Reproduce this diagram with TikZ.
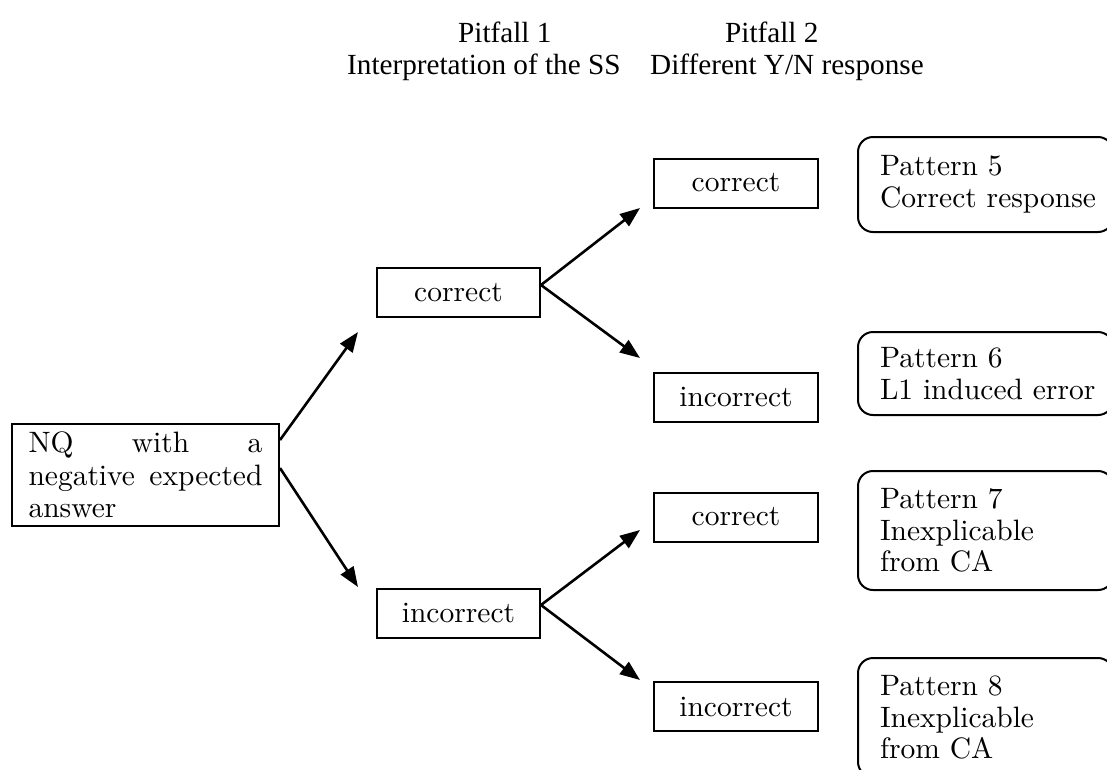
\documentclass[tikz,border=0pt]{standalone}
\usepackage{fontspec}
\setmainfont{lmroman10-regular.otf}
\newfontfamily\hdrfont{Liberation Serif}
\usetikzlibrary{arrows.meta}
\hyphenpenalty=10000
\exhyphenpenalty=10000
\tolerance=10000
\begin{document}
\begin{tikzpicture}[x=1pt,y=-1pt,
  sbox/.style={draw, line width=2pt, minimum width=163pt, minimum height=49pt, inner sep=0pt,
    font=\fontsize{29.5}{32}\selectfont},
  patbox/.style={draw, line width=2pt, rounded corners=15pt, anchor=north west, text width=211pt,
    inner xsep=22pt, inner ysep=0pt, align=left, font=\fontsize{29.5}{31.5}\selectfont},
  nqbox/.style={draw, line width=2pt, anchor=north west, text width=234pt, inner xsep=16.5pt,
    inner ysep=8pt, align=justify, font=\fontsize{29.5}{32.5}\selectfont},
  arr/.style={line width=2.6pt, -{Triangle[length=20pt,width=15pt]}},
  hdr/.style={anchor=base west, inner sep=0pt, font=\hdrfont\fontsize{29.2}{32}\selectfont}]
\useasboundingbox (0,0) rectangle (1107,769);

% headers
\node[hdr] (h1) at (458,42) {Pitfall 1};
\node[hdr] (h2) at (347,74) {Interpretation of the SS};
\node[hdr] (h3) at (725,42) {Pitfall 2};
\node[hdr] (h4) at (650,74) {Different Y/N response};

% start box
\node[nqbox] (nq) at (11,423) {NQ with a negative expected answer};

% pitfall 1 boxes
\node[sbox] (c1) at (458.5,292.5) {correct};
\node[sbox] (i1) at (458.5,613) {incorrect};

% pitfall 2 boxes
\node[sbox, minimum width=164pt] (c2) at (736,183) {correct};
\node[sbox, minimum width=164pt] (i2) at (736,397) {incorrect};
\node[sbox, minimum width=164pt] (c3) at (736,517) {correct};
\node[sbox, minimum width=164pt] (i3) at (736,706.5) {incorrect};

% pattern boxes
\node[patbox, minimum height=95pt] (p5) at (857,136) {Pattern 5\\Correct~response};
\node[patbox, minimum height=83pt] (p6) at (857,331) {Pattern 6\\L1~induced~error};
\node[patbox, minimum height=119pt] (p7) at (857,470) {Pattern 7\\Inexplicable\\from CA};
\node[patbox, minimum height=119pt] (p8) at (857,657) {Pattern 8\\Inexplicable\\from CA};

% arrow tips
\coordinate (t1) at (358,332);
\coordinate (t2) at (358,587);
\coordinate (t3) at (640,208);
\coordinate (t4) at (640,358);
\coordinate (t5) at (640,530);
\coordinate (t6) at (640,680);

\draw[arr] ([yshift=-17pt]nq.north east) -- (t1);
\draw[arr] ([yshift=-45pt]nq.north east) -- (t2);
\draw[arr] ([yshift=7.5pt]c1.east) -- (t3);
\draw[arr] ([yshift=7.5pt]c1.east) -- (t4);
\draw[arr] ([yshift=8pt]i1.east) -- (t5);
\draw[arr] ([yshift=8pt]i1.east) -- (t6);
\end{tikzpicture}
\end{document}
